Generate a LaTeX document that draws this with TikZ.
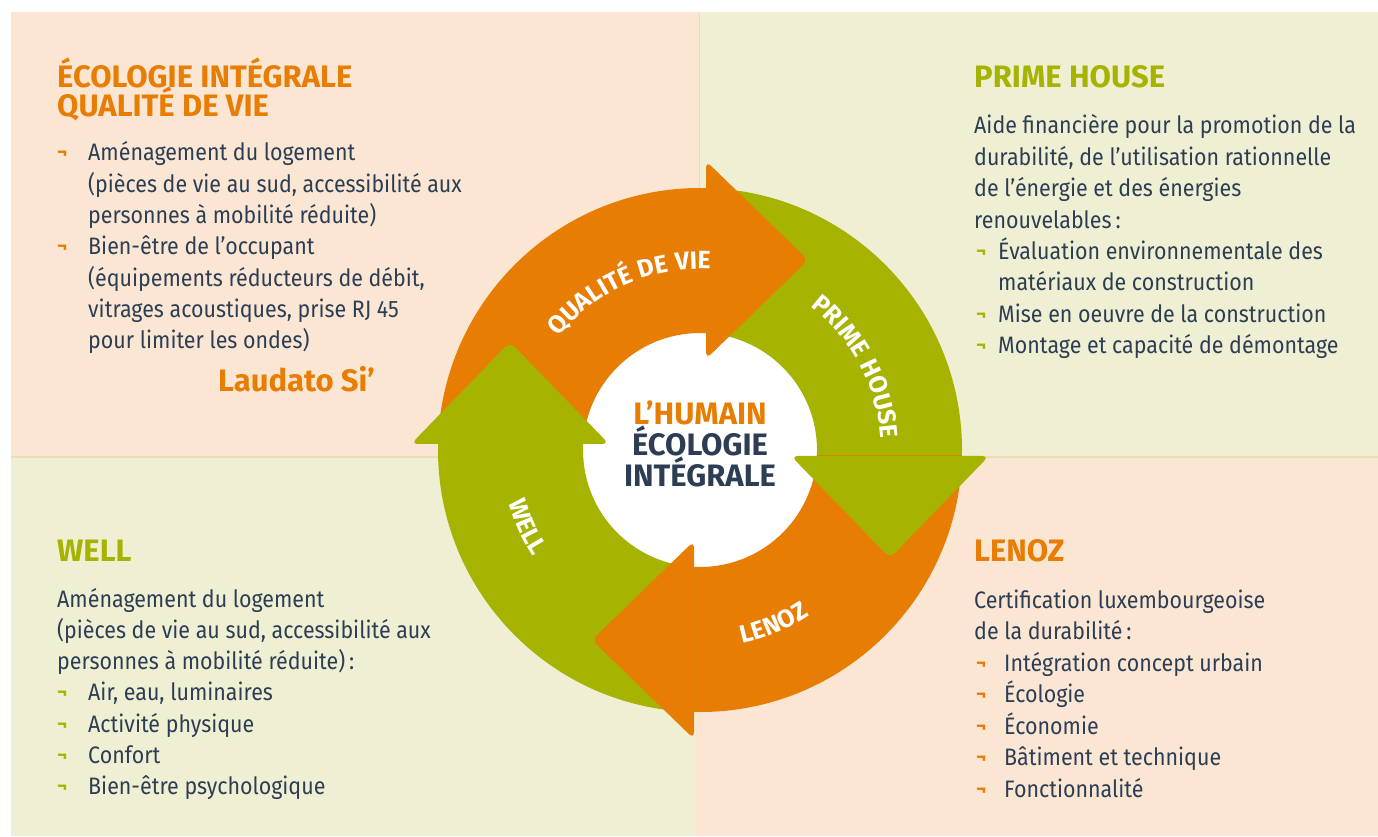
\documentclass[tikz,border=0pt]{standalone}
\usepackage{fontspec}
\usetikzlibrary{decorations.text}
\newfontfamily\ff{Fira Sans}[FakeStretch=0.9]
\newfontfamily\ffw{Fira Sans}
\newfontfamily\fflbl{Fira Sans}[LetterSpace=3]
\definecolor{orC}{RGB}{232,125,4}
\definecolor{grC}{RGB}{166,179,0}
\definecolor{navy}{RGB}{45,62,84}
\definecolor{peach}{RGB}{250,230,211}
\definecolor{lgreen}{RGB}{239,240,211}
\definecolor{divl}{RGB}{236,222,180}
\newcommand\bulo{\textcolor{orC}{\raisebox{2pt}{\ffw\bfseries\fontsize{19}{19}\selectfont ¬}}}
\newcommand\bulg{\textcolor{grC}{\raisebox{2pt}{\ffw\bfseries\fontsize{19}{19}\selectfont ¬}}}
\newcommand\lblfont{\fflbl\bfseries\fontsize{25}{25}\selectfont}
\tikzset{
  bodytxt/.style={font=\ff\fontsize{23.8}{28}\selectfont, text=navy, inner sep=0pt, anchor=base west},
  ttl/.style={font=\ffw\bfseries\fontsize{31}{36}\selectfont, inner sep=0pt, anchor=base west},
  bulnode/.style={inner sep=0pt, anchor=base west},
  ctr/.style={font=\ffw\bfseries\fontsize{31}{34}\selectfont, inner sep=0pt, anchor=base},
  lbl/.style={decorate, decoration={text along path, text align=center, text={|\lblfont\color{white}|#1}}},
}
\begin{document}
\begin{tikzpicture}[x=1pt,y=1pt]
\useasboundingbox (0,0) rectangle (1378,836);
\fill[white] (0,0) rectangle (1378,836);
% panels
\fill[peach] (11,379) rectangle (699,824);
\fill[lgreen] (699,379) rectangle (1378,824);
\fill[lgreen] (11,0) rectangle (696,379);
\fill[peach] (696,0) rectangle (1378,379);
\draw[divl, line width=2pt] (11,378.5) -- (1378,378.5);
\draw[divl, line width=0.8pt] (699,379) -- (699,824);

% cycle
\begin{scope}[shift={(700,386)}]
  \fill[white] (0,0) circle (117);
  \begin{scope}\clip (-300,6) rectangle (6,300);
    \fill[orC, even odd rule] (0,0) circle (262) (0,0) circle (117);\end{scope}
  \begin{scope}\clip (6,-6) rectangle (300,300);
    \fill[grC, even odd rule] (0,0) circle (262) (0,0) circle (117);\end{scope}
  \begin{scope}\clip (-6,-300) rectangle (300,-6);
    \fill[orC, even odd rule] (0,0) circle (262) (0,0) circle (117);\end{scope}
  \begin{scope}\clip (-300,-300) rectangle (-6,6);
    \fill[grC, even odd rule] (0,0) circle (262) (0,0) circle (117);\end{scope}
  \fill[orC, rounded corners=7pt] (6,91) -- (6,289) -- (108,190) -- cycle;
  \fill[grC, rounded corners=7pt] (91,-6) -- (289,-6) -- (190,-108) -- cycle;
  \fill[orC, rounded corners=7pt] (-6,-91) -- (-6,-289) -- (-108,-190) -- cycle;
  \fill[grC, rounded corners=7pt] (-91,6) -- (-289,6) -- (-190,108) -- cycle;
  \path[lbl={QUALITÉ DE VIE}] (170:181) arc[start angle=170, end angle=58, radius=181];
  \path[lbl={PRIME HOUSE}] (84:181) arc[start angle=84, end angle=-28, radius=181];
  \path[lbl={LENOZ}] (-123:198) arc[start angle=-123, end angle=-11, radius=198];
  \path[lbl={WELL}] (148:198) arc[start angle=148, end angle=260, radius=198];
\end{scope}

% center
\node[ctr, text=orC] (hum) at (700,411) {L’HUMAIN};
\node[ctr, text=navy] (eco) at (700,380) {ÉCOLOGIE};
\node[ctr, text=navy] (integ) at (700,349) {INTÉGRALE};

% top left
\node[ttl, text=orC] (tlt1) at (57,748) {ÉCOLOGIE INTÉGRALE};
\node[ttl, text=orC] (tlt2) at (57,719) {QUALITÉ DE VIE};
\node[bulnode] (tlb1) at (57,675) {\bulo};
\node[bodytxt] (tl1) at (88,675) {Aménagement du logement};
\node[bodytxt] (tl2) at (88,643.7) {(pièces de vie au sud, accessibilité aux};
\node[bodytxt] (tl3) at (88,612.4) {personnes à mobilité réduite)};
\node[bulnode] (tlb2) at (57,581.1) {\bulo};
\node[bodytxt] (tl4) at (88,581.1) {Bien-être de l’occupant};
\node[bodytxt] (tl5) at (88,549.8) {(équipements réducteurs de débit,};
\node[bodytxt] (tl6) at (88,518.5) {vitrages acoustiques, prise RJ 45};
\node[bodytxt] (tl7) at (88,487.2) {pour limiter les ondes)};
\node[inner sep=0pt, anchor=base west, text=orC, font=\ffw\bfseries\fontsize{31}{34}\selectfont] (laud) at (218,444) {Laudato Si’};

% top right
\node[ttl, text=grC] (trt) at (974,748) {PRIME HOUSE};
\node[bodytxt] (tr1) at (974,702) {Aide financière pour la promotion de la};
\node[bodytxt] (tr2) at (974,670.6) {durabilité, de l’utilisation rationnelle};
\node[bodytxt] (tr3) at (974,639.2) {de l’énergie et des énergies};
\node[bodytxt] (tr4) at (974,607.8) {renouvelables\,:};
\node[bulnode] (trb1) at (976,576.4) {\bulg};
\node[bodytxt] (tr5) at (998,576.4) {Évaluation environnementale des};
\node[bodytxt] (tr6) at (998,545) {matériaux de construction};
\node[bulnode] (trb2) at (976,513.6) {\bulg};
\node[bodytxt] (tr7) at (998,513.6) {Mise en oeuvre de la construction};
\node[bulnode] (trb3) at (976,482.2) {\bulg};
\node[bodytxt] (tr8) at (998,482.2) {Montage et capacité de démontage};

% bottom left
\node[ttl, text=grC] (blt) at (57,275) {WELL};
\node[bodytxt] (bl1) at (57,229) {Aménagement du logement};
\node[bodytxt] (bl2) at (57,197.7) {(pièces de vie au sud, accessibilité aux};
\node[bodytxt] (bl3) at (57,166.4) {personnes à mobilité réduite)\,:};
\node[bulnode] (blb1) at (57,135.1) {\bulg};
\node[bodytxt] (bl4) at (88,135.1) {Air, eau, luminaires};
\node[bulnode] (blb2) at (57,103.8) {\bulg};
\node[bodytxt] (bl5) at (88,103.8) {Activité physique};
\node[bulnode] (blb3) at (57,72.5) {\bulg};
\node[bodytxt] (bl6) at (88,72.5) {Confort};
\node[bulnode] (blb4) at (57,41.2) {\bulg};
\node[bodytxt] (bl7) at (88,41.2) {Bien-être psychologique};

% bottom right
\node[ttl, text=orC] (brt) at (974,275) {LENOZ};
\node[bodytxt] (br1) at (974,228) {Certification luxembourgeoise};
\node[bodytxt] (br2) at (974,196.5) {de la durabilité\,:};
\node[bulnode] (brb1) at (976,165) {\bulo};
\node[bodytxt] (br3) at (1004,165) {Intégration concept urbain};
\node[bulnode] (brb2) at (976,133.5) {\bulo};
\node[bodytxt] (br4) at (1004,133.5) {Écologie};
\node[bulnode] (brb3) at (976,102) {\bulo};
\node[bodytxt] (br5) at (1004,102) {Économie};
\node[bulnode] (brb4) at (976,70.5) {\bulo};
\node[bodytxt] (br6) at (1004,70.5) {Bâtiment et technique};
\node[bulnode] (brb5) at (976,39) {\bulo};
\node[bodytxt] (br7) at (1004,39) {Fonctionnalité};
\end{tikzpicture}
\end{document}
